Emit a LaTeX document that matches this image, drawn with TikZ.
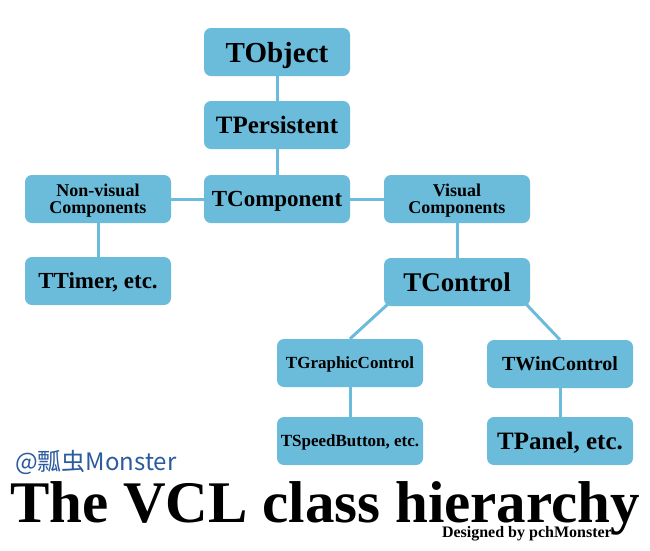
\documentclass[tikz,border=0pt]{standalone}
\usepackage{fontspec}
\setmainfont{Liberation Serif}
\newfontfamily\cjkfont{Noto Sans CJK SC}
\usepackage{xcolor}
\usetikzlibrary{
	backgrounds,
	positioning
}
\definecolor{BoxBlue}{RGB}{107,187,219}
\definecolor{TagBlue}{RGB}{43,90,158}
\newcommand{\fsz}[1]{\fontsize{#1}{#1}\selectfont}
\tikzset{
	cls/.style={rectangle, rounded corners=7pt, fill=BoxBlue, minimum width=146pt, minimum height=48pt, inner sep=0pt, text depth=0pt, align=center},
	link/.style={BoxBlue, line width=3pt}
}

\begin{document}
\begin{tikzpicture}[x=1pt, y=-1pt]
		\useasboundingbox (0, 0) rectangle (650, 550);
		
		\node[cls, font=\fsz{29}\bfseries] (obj) at (277, 52) {TObject};
		\node[cls, font=\fsz{25}\bfseries] (pers) at (277, 125) {TPersistent};
		\node[cls, font=\fsz{23}\bfseries] (comp) at (277, 199) {TComponent};
		\node[cls, font=\fontsize{18}{17}\selectfont\bfseries] (nonvis) at (98, 199) {Non-visual\\Components};
		\node[cls, font=\fsz{23}\bfseries] (timer) at (98, 281) {TTimer, etc.};
		\node[cls, font=\fontsize{18}{17}\selectfont\bfseries] (vis) at (457, 199) {Visual\\Components};
		\node[cls, font=\fsz{27}\bfseries] (ctrl) at (457, 282) {TControl};
		\node[cls, font=\fsz{17}\bfseries] (gfx) at (350, 363) {TGraphicControl};
		\node[cls, font=\fsz{20}\bfseries] (win) at (560, 364) {TWinControl};
		\node[cls, font=\fsz{17}\bfseries] (speed) at (350, 441) {TSpeedButton, etc.};
		\node[cls, font=\fsz{25}\bfseries] (panel) at (560, 441) {TPanel, etc.};
		
		\begin{scope}[on background layer]
			\draw[link] (obj.south) -- (pers.north);
			\draw[link] (pers.south) -- (comp.north);
			\draw[link] (nonvis.east) -- (comp.west);
			\draw[link] (comp.east) -- (vis.west);
			\draw[link] (nonvis.south) -- (timer.north);
			\draw[link] (vis.south) -- (ctrl.north);
			\draw[link] ([xshift=4pt, yshift=2pt]ctrl.south west) -- (gfx.north);
			\draw[link] ([xshift=-4pt, yshift=2pt]ctrl.south east) -- (win.north);
			\draw[link] (gfx.south) -- (speed.north);
			\draw[link] (win.south) -- (panel.north);
		\end{scope}
		
		\node[anchor=base west, inner sep=0pt, TagBlue] (tag) at (15, 470) {\cjkfont\fsz{24}@瓢虫Monster};
		\node[anchor=base west, inner sep=0pt] (title) at (10, 522) {\fsz{59}\bfseries The VCL class hierarchy};
		\node[anchor=base east, inner sep=0pt] (credit) at (612, 537) {\fsz{16}\bfseries Designed by pchMonster};
	\end{tikzpicture}
\end{document}
